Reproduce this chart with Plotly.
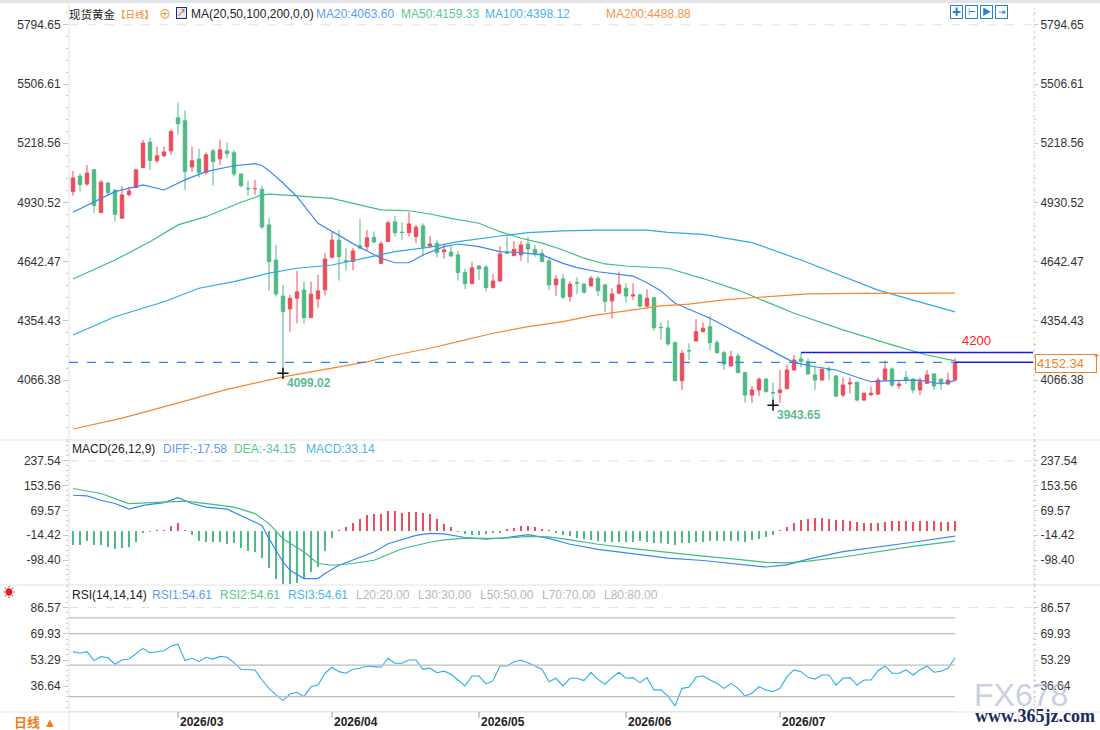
import pandas as pd
import plotly.graph_objects as go

W, H = 1100, 730
RED = "#ec4c5b"
GREEN = "#50b985"
FONT = "Liberation Sans, Noto Sans CJK SC, sans-serif"

# daily candles, spot gold
open_ = [4983, 5059, 5020, 5089, 4881, 5025, 4990, 4854, 4968, 5003,
         5100, 5224, 5134, 5158, 5181, 5342, 5328, 5103, 5142, 5076,
         5181, 5143, 5181, 5172, 5069, 4999, 4997, 4994, 4821, 4650,
         4475, 4412, 4464, 4504, 4370, 4461, 4505, 4664, 4747, 4648,
         4643, 4719, 4715, 4761, 4634, 4740, 4836, 4786, 4783, 4764,
         4816, 4718, 4731, 4690, 4689, 4675, 4589, 4535, 4621, 4616,
         4516, 4548, 4686, 4671, 4675, 4728, 4702, 4683, 4646, 4529,
         4558, 4472, 4540, 4533, 4524, 4561, 4529, 4451, 4489, 4513,
         4475, 4480, 4426, 4467, 4323, 4320, 4248, 4063, 4210, 4256,
         4301, 4326, 4248, 4199, 4135, 4183, 4102, 3993, 4018, 4071,
         4006, 4005, 4024, 4115, 4169, 4156, 4091, 4066, 4118, 4086,
         3993, 4047, 4055, 3969, 3995, 3998, 4066, 4120, 4039, 4079,
         4071, 4018, 4050, 4096, 4070, 4047, 4066]
high = [5083, 5072, 5113, 5094, 5039, 5029, 4995, 5009, 5007, 5094,
        5235, 5246, 5202, 5202, 5285, 5416, 5378, 5202, 5192, 5174,
        5192, 5235, 5222, 5186, 5069, 5035, 5040, 5012, 4854, 4723,
        4529, 4480, 4597, 4545, 4545, 4578, 4686, 4789, 4797, 4708,
        4710, 4850, 4797, 4789, 4742, 4840, 4865, 4834, 4883, 4821,
        4829, 4767, 4748, 4728, 4718, 4694, 4607, 4642, 4626, 4626,
        4582, 4718, 4764, 4743, 4743, 4764, 4723, 4702, 4664, 4577,
        4582, 4548, 4566, 4537, 4572, 4572, 4534, 4513, 4594, 4537,
        4537, 4488, 4508, 4472, 4347, 4358, 4253, 4212, 4245, 4362,
        4347, 4378, 4261, 4209, 4209, 4196, 4107, 4037, 4080, 4075,
        4053, 4115, 4140, 4188, 4199, 4172, 4131, 4131, 4134, 4091,
        4079, 4079, 4058, 4004, 4034, 4079, 4160, 4128, 4063, 4110,
        4075, 4079, 4115, 4099, 4075, 4102, 4172]
low = [4963, 4983, 5012, 4878, 4881, 4963, 4837, 4850, 4960, 5000,
       5100, 5089, 5121, 5150, 5162, 5259, 4991, 5079, 5051, 5065,
       5012, 5113, 5145, 5056, 5004, 4963, 4967, 4801, 4500, 4472,
       4099.02, 4301, 4342, 4342, 4370, 4418, 4477, 4659, 4550, 4598,
       4601, 4704, 4696, 4732, 4631, 4740, 4764, 4748, 4764, 4732,
       4670, 4712, 4663, 4656, 4664, 4550, 4508, 4535, 4553, 4496,
       4511, 4545, 4680, 4671, 4647, 4637, 4667, 4642, 4504, 4475,
       4460, 4447, 4485, 4485, 4524, 4475, 4397, 4365, 4485, 4443,
       4456, 4420, 4415, 4306, 4261, 4233, 4063, 4018, 4164, 4256,
       4301, 4209, 4196, 4115, 4131, 4102, 3956, 3956, 3989, 4004,
       3943.65, 3956, 4024, 4115, 4128, 4091, 4018, 4066, 4066, 3982,
       3982, 4001, 3964, 3964, 3988, 3995, 4066, 4031, 4023, 4047,
       4002, 3993, 4050, 4018, 4018, 4042, 4063]
close = [5049, 5017, 5073, 4915, 5029, 4978, 4873, 4967, 4986, 5089,
         5219, 5134, 5157, 5176, 5275, 5313, 5081, 5133, 5076, 5162,
         5129, 5186, 5168, 5069, 5012, 4997, 4998, 4811, 4642, 4485,
         4399, 4464, 4495, 4370, 4484, 4500, 4655, 4747, 4667, 4643,
         4694, 4708, 4758, 4738, 4729, 4831, 4783, 4784, 4826, 4810,
         4712, 4728, 4686, 4699, 4670, 4589, 4535, 4612, 4607, 4516,
         4548, 4680, 4683, 4702, 4723, 4704, 4679, 4642, 4529, 4558,
         4469, 4533, 4538, 4494, 4561, 4501, 4448, 4485, 4529, 4475,
         4480, 4426, 4464, 4321, 4321, 4242, 4063, 4196, 4208, 4301,
         4318, 4248, 4199, 4144, 4180, 4102, 3993, 4018, 4070, 4010,
         4004, 4018, 4115, 4164, 4156, 4096, 4066, 4118, 4115, 3988,
         4042, 4053, 3969, 4002, 4002, 4066, 4120, 4042, 4047, 4066,
         4018, 4058, 4091, 4037, 4050, 4066, 4152.34]

# moving averages, sampled along the drawn lines
ma20_idx = [0, 5, 6, 10, 13, 16, 19, 23, 26, 27, 28, 30, 32, 35, 37, 40, 42, 44, 46, 48,
            50, 53, 55, 58, 61, 64, 67, 70, 72, 75, 80, 82, 84, 86, 91, 96, 100, 103,
            106, 109, 112, 114, 117, 121, 124, 126]
ma20_val = [4883, 4967, 4983, 5016, 4991, 5040, 5080, 5109, 5119, 5110, 5085, 5025, 4958,
            4829, 4788, 4730, 4694, 4659, 4637, 4637, 4675, 4715, 4728, 4715, 4691, 4686,
            4675, 4634, 4613, 4593, 4572, 4540, 4500, 4440, 4367, 4277, 4204, 4151, 4131,
            4115, 4080, 4058, 4063, 4066, 4047, 4063.60]
ma50_idx = [0, 6, 11, 15, 19, 24, 27, 28, 32, 37, 42, 44, 48, 51, 54, 58, 61, 64, 67, 70,
            73, 76, 79, 85, 90, 95, 103, 110, 117, 122, 126]
ma50_val = [4558, 4650, 4739, 4821, 4861, 4931, 4967, 4971, 4962, 4950, 4910, 4894, 4890,
            4874, 4853, 4829, 4788, 4756, 4732, 4699, 4659, 4631, 4621, 4610, 4560, 4504,
            4391, 4310, 4237, 4188, 4159.33]
ma100_idx = [0, 6, 13, 18, 23, 28, 32, 37, 42, 46, 51, 55, 61, 65, 70, 75, 82, 85, 90, 97,
             104, 110, 115, 120, 126]
ma100_val = [4285, 4374, 4447, 4513, 4545, 4586, 4610, 4626, 4662, 4691, 4713, 4740, 4767,
             4783, 4792, 4796, 4796, 4785, 4775, 4735, 4650, 4570, 4504, 4455, 4398.12]
ma200_idx = [0, 7, 14, 22, 30, 36, 42, 46, 51, 55, 60, 65, 70, 74, 79, 84, 88, 93, 98, 105,
             112, 118, 126]
ma200_val = [3828, 3881, 3945, 4021, 4082, 4120, 4155, 4188, 4221, 4253, 4294, 4326, 4350,
             4378, 4404, 4427, 4436, 4456, 4469, 4485, 4488, 4489, 4488.88]

# MACD(26,12,9)
diff_idx = [0, 2, 4, 6, 8, 10, 13, 15, 17, 19, 22, 25, 27, 28, 30, 31, 33, 35, 36, 38, 40,
            43, 45, 47, 49, 51, 53, 56, 59, 62, 65, 68, 71, 75, 80, 85, 90, 95, 99, 102,
            105, 110, 115, 120, 126]
diff_val = [121, 119, 104, 93, 74, 87, 96, 113, 93, 81, 74, 42, 19, -26, -105, -133, -161,
            -161, -144, -116, -99, -71, -43, -29, -15, -8, -10, -22, -28, -22, -12, -25, -45,
            -62, -78, -92, -100, -112, -122, -115, -95, -70, -55, -38, -17.58]
dea_idx = [0, 4, 8, 13, 16, 20, 23, 26, 28, 30, 33, 35, 37, 40, 43, 47, 49, 51, 53, 56, 59,
           62, 65, 68, 71, 75, 80, 85, 90, 95, 99, 102, 105, 110, 115, 120, 126]
dea_val = [144, 127, 93, 98, 101, 90, 81, 59, 25, -26, -71, -110, -116, -110, -99, -60, -48,
           -38, -30, -24, -25, -24, -18, -20, -30, -45, -60, -73, -85, -96, -106, -108, -102,
           -88, -70, -52, -34.15]
macd_hist = [-47, -47, -34, -47, -47, -53, -62, -59, -53, -36,
             -4, -1, 3, 3, 18, 26, 3, -14, -34, -36,
             -36, -38, -45, -42, -59, -68, -70, -90, -126, -163,
             -181, -181, -177, -163, -138, -121, -68, -23, 2, 15,
             26, 41, 54, 56, 56, 69, 67, 62, 64, 66,
             62, 58, 40, 25, 12, -3, -10, -14, -12, -10,
             -8, -5, 4, 10, 16, 18, 14, 8, 3, -6,
             -12, -18, -24, -28, -30, -33, -36, -38, -38, -36,
             -36, -35, -38, -40, -42, -45, -46, -42, -40, -38,
             -36, -34, -34, -35, -34, -34, -36, -32, -28, -22,
             -14, 2, 14, 28, 36, 42, 44, 44, 42, 38,
             36, 34, 30, 28, 26, 28, 32, 34, 34, 33,
             32, 33, 34, 33, 32, 30, 33.14]

# RSI(14)
rsi = [58.6, 57.6, 58.6, 52.9, 55.4, 54.7, 50.6, 53.3, 53.9, 57.1,
       60.7, 57.9, 58.6, 59.2, 62.2, 63.3, 52.9, 54.4, 52.2, 55.0,
       53.9, 55.6, 55.0, 51.6, 47.4, 47.0, 47.0, 40.6, 35.3, 31.1,
       27.5, 31.7, 32.8, 30.0, 36.3, 37.4, 44.9, 48.7, 45.9, 44.9,
       47.4, 48.1, 49.5, 49.1, 48.7, 54.4, 51.2, 51.2, 53.3, 53.3,
       47.4, 48.1, 45.2, 46.2, 44.2, 40.6, 36.8, 43.1, 43.1, 38.1,
       40.2, 49.5, 49.5, 52.2, 53.1, 51.6, 49.5, 47.4, 39.5, 41.7,
       36.8, 41.7, 41.7, 40.2, 45.5, 41.0, 37.9, 42.1, 45.5, 41.7,
       42.1, 38.9, 42.1, 34.3, 34.3, 30.4, 24.1, 35.3, 36.0, 42.3,
       43.3, 40.6, 38.5, 35.3, 38.5, 35.3, 30.4, 32.2, 36.3, 34.3,
       33.2, 35.3, 42.7, 47.0, 45.9, 42.3, 41.2, 43.8, 43.8, 37.4,
       41.7, 42.1, 37.4, 40.6, 40.6, 46.5, 49.5, 44.9, 44.9, 47.0,
       43.8, 47.0, 49.5, 45.5, 46.2, 48.0, 54.61]
rsi_levels = [20, 30, 50, 70, 80]

price_ticks = ["4066.38", "4354.43", "4642.47", "4930.52", "5218.56", "5506.61", "5794.65"]
macd_ticks = ["-98.40", "-14.42", "69.57", "153.56", "237.54"]
rsi_ticks = ["36.64", "53.29", "69.93", "86.57"]
month_labels = ["2026/03", "2026/04", "2026/05", "2026/06", "2026/07"]
last_price = 4152.34
level_price = 4200

n = len(close)
idx = list(range(n))
dates = pd.bdate_range("2026-02-09", periods=n + 1)
dates = dates[dates != pd.Timestamp("2026-04-03")][:n]
ym = list(dates.strftime("%Y/%m"))
month_idx = [ym.index(m) for m in month_labels]
low_idx = low.index(min(low[:60]))
low2_idx = low.index(min(low))


def px(x):
    return x / W


def py(y):
    return 1 - y / H


XR = [-4 / 7, 960 / 7]
XDOM = [px(69), px(1033)]
DOM_MAIN = [py(440), py(8)]
DOM_MACD = [py(585), py(441)]
DOM_RSI = [py(712), py(586)]
R_MAIN = [3774.45, 5876.4]
R_MACD = [-182.9, 304.8]
R_RSI = [20.28, 100.29]

fig = go.Figure()

fig.add_trace(go.Candlestick(
    x=idx, open=open_, high=high, low=low, close=close,
    increasing=dict(line=dict(color=RED, width=1), fillcolor=RED),
    decreasing=dict(line=dict(color=GREEN, width=1), fillcolor=GREEN),
    whiskerwidth=0, xaxis="x", yaxis="y", showlegend=False))

for xs, ys, col in [(ma20_idx, ma20_val, "#3b86f2"), (ma50_idx, ma50_val, "#3cbf7d"),
                    (ma100_idx, ma100_val, "#2ea9e6"), (ma200_idx, ma200_val, "#f5872e")]:
    fig.add_trace(go.Scatter(x=xs, y=ys, mode="lines", line=dict(color=col, width=1.2),
                             xaxis="x", yaxis="y", showlegend=False, hoverinfo="skip"))

fig.add_trace(go.Scatter(x=[low_idx, low2_idx], y=[low[low_idx], low[low2_idx]], mode="markers",
                         marker=dict(symbol="cross-thin", size=8, line=dict(color="#111", width=1.5)),
                         xaxis="x", yaxis="y", showlegend=False))

fig.add_trace(go.Bar(x=idx, y=macd_hist, width=0.17,
                     marker=dict(color=[RED if v > 0 else GREEN for v in macd_hist], line=dict(width=0)),
                     xaxis="x2", yaxis="y2", showlegend=False))
fig.add_trace(go.Scatter(x=diff_idx, y=diff_val, mode="lines", line=dict(color="#3b86f2", width=1.2),
                         xaxis="x2", yaxis="y2", showlegend=False))
fig.add_trace(go.Scatter(x=dea_idx, y=dea_val, mode="lines", line=dict(color="#3cbf7d", width=1.2),
                         xaxis="x2", yaxis="y2", showlegend=False))

fig.add_trace(go.Scatter(x=idx, y=rsi, mode="lines", line=dict(color="#2eaee6", width=1.1),
                         xaxis="x3", yaxis="y3", showlegend=False))

# dummies so the right-hand axes are drawn
for ya in ["y4", "y5", "y6"]:
    fig.add_trace(go.Scatter(x=[None], y=[None], xaxis="x", yaxis=ya, showlegend=False))


def yax(dom, rng, ticks, side="left", overlay=None):
    d = dict(range=rng, tickvals=[float(t) for t in ticks], ticktext=ticks, side=side,
             ticks="outside", ticklen=4 if side == "right" else 5, tickcolor="#b3c9e2",
             showgrid=False, zeroline=False,
             showline=False, tickfont=dict(size=12, color="#333", family=FONT), fixedrange=True,
             minor=dict(ticks="outside", ticklen=2, tickcolor="#c8c8c8",
                        tick0=float(ticks[0]), dtick=(float(ticks[1]) - float(ticks[0])) / 5))
    if overlay:
        d.update(overlaying=overlay, anchor="x")
    else:
        d.update(domain=dom, anchor="x" if dom is DOM_MAIN else ("x2" if dom is DOM_MACD else "x3"))
    return d


xcommon = dict(range=XR, domain=XDOM, showgrid=False, zeroline=False, showline=False,
               showticklabels=False, fixedrange=True)

shapes = []
# separators and axis lines
for y in [440, 585, 712]:
    shapes.append(dict(type="line", xref="paper", yref="paper", x0=0, x1=1, y0=py(y), y1=py(y),
                       line=dict(color="#e4e4e4", width=1)))
shapes.append(dict(type="line", xref="paper", yref="paper", x0=px(69), x1=px(69), y0=0, y1=py(3),
                   line=dict(color="#e2e2e2", width=1)))
shapes.append(dict(type="line", xref="paper", yref="paper", x0=px(1034), x1=px(1034), y0=py(712), y1=py(8),
                   line=dict(color="#d0d0d0", width=1, dash="dot")))
shapes.append(dict(type="rect", xref="paper", yref="paper", x0=0, x1=1, y0=py(3), y1=1,
                   line=dict(width=0), fillcolor="#e3e4ea"))
# top dashed grid lines
for ya, v in [("y", price_ticks[-1]), ("y2", macd_ticks[-1]), ("y3", rsi_ticks[-1])]:
    shapes.append(dict(type="line", xref="x", yref=ya, x0=XR[0], x1=XR[1], y0=float(v), y1=float(v),
                       line=dict(color="#e0e0e0", width=1, dash="dash")))
# RSI levels
for lv in rsi_levels:
    shapes.append(dict(type="line", xref="x3", yref="y3", x0=XR[0], x1=n - 1, y0=lv, y1=lv,
                       line=dict(color="#bdbdbd", width=1.2)))
# price lines
shapes.append(dict(type="line", xref="x", yref="y", x0=XR[0], x1=n - 1, y0=last_price, y1=last_price,
                   line=dict(color="#2f86e8", width=1.2, dash="dash")))
shapes.append(dict(type="line", xref="x", yref="y", x0=n - 1, x1=XR[1], y0=last_price, y1=last_price,
                   line=dict(color="#1a1ae6", width=1.5)))
shapes.append(dict(type="line", xref="x", yref="y", x0=104, x1=XR[1], y0=level_price, y1=level_price,
                   line=dict(color="#1a1ae6", width=1.5)))
# x ticks
for i in month_idx:
    shapes.append(dict(type="line", xref="x3", yref="paper", x0=i, x1=i, y0=py(718), y1=py(712),
                       line=dict(color="#999", width=1)))

ann = []


def txt(x, y, s, color="#222", size=12, anchor="left", **kw):
    d = dict(x=px(x), y=py(y), xref="paper", yref="paper", text=s, showarrow=False,
             xanchor=anchor, yanchor="middle", font=dict(size=size, color=color, family=FONT))
    d.update(kw)
    ann.append(d)


# header rows
txt(67, 14, "现货黄金", size=11.5)
txt(114, 14, "【日线】", "#f08a24", 9.5)
txt(157, 15, "⊕", "#f08a24", 12)
txt(176, 13, "↗", "#d03030", 9, bordercolor="#1c2b7a", bgcolor="#e4ecf8", borderpad=0)
txt(189, 14, "MA(20,50,100,200,0,0)")
txt(314, 14, "MA20:4063.60", "#5b9cf5")
txt(399, 14, "MA50:4159.33", "#59c98e")
txt(483, 14, "MA100:4398.12", "#4bb4ea")
txt(604, 14, "MA200:4488.88", "#f5944a")
for k, s in enumerate(["✚", "⊢", "▶", "⇥"]):
    txt(950 + 15 * k, 12, s, "#2a7fd4", 9, width=11, height=12, bordercolor="#2a7fd4", borderpad=0)

txt(70, 449, "MACD(26,12,9)")
txt(161, 449, "DIFF:-17.58", "#5b9cf5")
txt(232, 449, "DEA:-34.15", "#59c98e")
txt(304, 449, "MACD:33.14", "#4bb4ea")

txt(70, 595, "RSI(14,14,14)")
txt(150, 595, "RSI1:54.61", "#5b9cf5")
txt(218, 595, "RSI2:54.61", "#59c98e")
txt(286, 595, "RSI3:54.61", "#4bb4ea")
for k, lv in enumerate(rsi_levels):
    txt(354 + 62 * k, 595, "L%d:%.2f" % (lv, lv), "#b8b8b8")
txt(9, 593, "☀", "#e02020", 12, anchor="center")

# value labels in the main panel
for i in [low_idx, low2_idx]:
    ann.append(dict(x=i, y=low[i], xref="x", yref="y", text="<b>%.2f</b>" % low[i],
                    showarrow=False, xanchor="left", yanchor="top", xshift=2, yshift=-1,
                    font=dict(size=12, color="#5dbd8e", family=FONT)))
ann.append(dict(x=129, y=level_price, xref="x", yref="y", text=str(level_price), showarrow=False,
                xanchor="center", yanchor="bottom", yshift=3, font=dict(size=13, color="#ff1a1a", family=FONT)))
ann.append(dict(x=px(1035), y=last_price, xref="paper", yref="y", text="%.2f" % last_price, showarrow=False,
                xanchor="left", yanchor="middle", yshift=-1, width=58, align="left",
                bordercolor="#f5821f", borderwidth=1, bgcolor="#ffffff", borderpad=1,
                font=dict(size=13, color="#f5821f", family=FONT)))
txt(1096, 358, "⇡", "#f5821f", 11, anchor="center")

# month labels and bottom-left cell
for i, m in zip(month_idx, month_labels):
    ann.append(dict(x=i, y=py(722), xref="x3", yref="paper", text="<b>%s</b>" % m, showarrow=False,
                    xanchor="left", yanchor="middle", font=dict(size=12, color="#222", family=FONT)))
txt(12, 722, "<b>日线 ▲</b>", "#f07d1a", 13)

# watermark
txt(1021, 695, "FX678", "rgba(165,175,205,0.6)", 32, anchor="center")
txt(1035, 716, "<b>www.365jz.com</b>", "#1b2a5e", 18, anchor="center",
    font=dict(size=18, color="#1b2a5e", family="Liberation Serif, serif"))

fig.update_layout(
    width=W, height=H, margin=dict(l=0, r=0, t=0, b=0),
    paper_bgcolor="white", plot_bgcolor="white", showlegend=False,
    font=dict(family=FONT, size=12, color="#333"),
    xaxis=dict(anchor="y", rangeslider=dict(visible=False), **xcommon),
    xaxis2=dict(anchor="y2", matches="x", **xcommon),
    xaxis3=dict(anchor="y3", matches="x", **xcommon),
    yaxis=yax(DOM_MAIN, R_MAIN, price_ticks),
    yaxis2=yax(DOM_MACD, R_MACD, macd_ticks),
    yaxis3=yax(DOM_RSI, R_RSI, rsi_ticks),
    yaxis4=yax(DOM_MAIN, R_MAIN, price_ticks, "right", "y"),
    yaxis5=yax(DOM_MACD, R_MACD, macd_ticks, "right", "y2"),
    yaxis6=yax(DOM_RSI, R_RSI, rsi_ticks, "right", "y3"),
    shapes=shapes, annotations=ann, bargap=0,
)

# the page is photographed from its top-left corner, so drop the browser's body margin
fig.write_html("out.html", config={"displayModeBar": False},
               post_script="document.body.style.margin='0px';")
